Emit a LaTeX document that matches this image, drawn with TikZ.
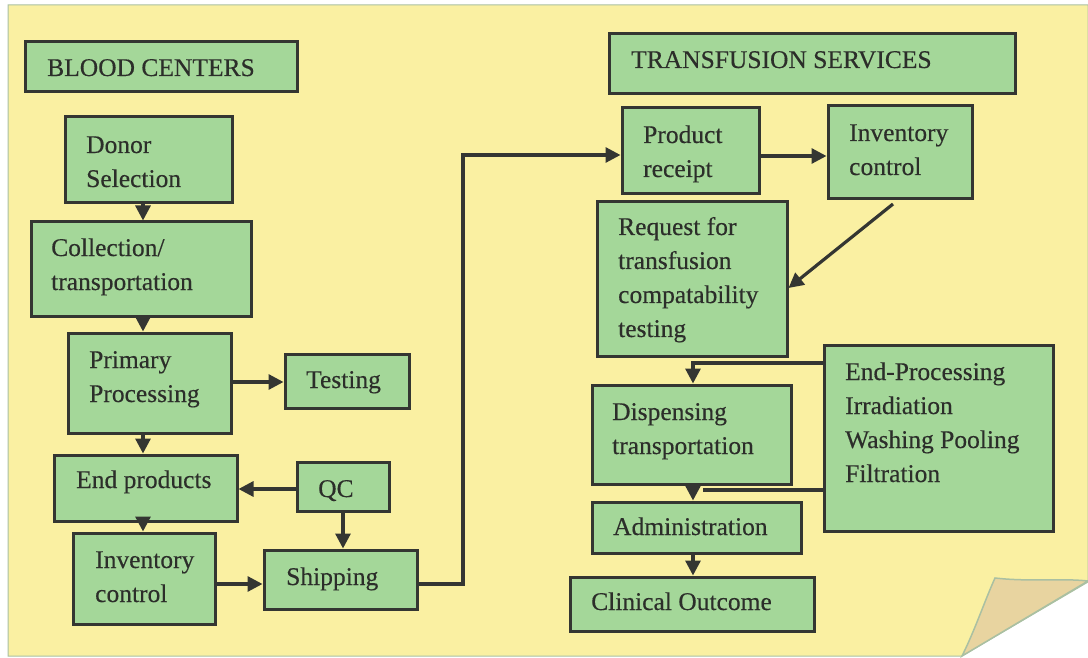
\documentclass[tikz,border=0pt]{standalone}
\usepackage{fontspec}
\setmainfont{Liberation Serif}[BoldFont={Liberation Serif}, BoldFeatures={FakeBold=0.35}]
\usetikzlibrary{arrows.meta}

\definecolor{paper}{RGB}{250,240,162}
\definecolor{boxgreen}{RGB}{164,215,153}
\definecolor{ink}{RGB}{52,54,50}
\definecolor{textink}{RGB}{44,46,42}
\definecolor{flap}{RGB}{232,212,160}
\definecolor{paperedge}{RGB}{170,192,162}

% multi-line text whose baseline is the first line
\newcommand\stack[1]{\begin{tabular}[t]{@{}l@{}}#1\end{tabular}}
% box from its corners (x1,y1,x2,y2) in pixel units
\newcommand\bx[5]{\node[box, minimum width={(#4-#2)*1pt}, minimum height={(#5-#3)*1pt}] (#1) at ({(#2+#4)/2},{(#3+#5)/2}) {};}

\tikzset{
  box/.style={draw=ink, fill=boxgreen, line width=3pt, inner sep=0pt},
  txt/.style={anchor=base west, inner sep=0pt, text=textink,
    font=\fontsize{25.5}{34}\selectfont\bfseries},
  conn/.style={draw=ink, line width=3.2pt},
  arr/.style={conn, -{Triangle[length=15pt,width=15pt]}},
}

\begin{document}
\begin{tikzpicture}[x=1pt,y=-1pt]
\useasboundingbox (0,0) rectangle (1088,658);
\fill[white] (0,0) rectangle (1088,658);

% sheet of paper with a curled bottom-right corner
\fill[paper, draw=paperedge, line width=1pt]
  (8,5) -- (1088,5) -- (1088,582) -- (962,656) -- (8,656) -- cycle;
\fill[flap, draw=paperedge, line width=1.5pt]
  (995,578) .. controls (1030,582) and (1060,578) .. (1088,581)
  -- (962,656) .. controls (975,630) and (985,600) .. cycle;

% blood center boxes
\bx{bc}{25}{42}{297}{92}
\bx{donor}{65}{117}{232}{203}
\bx{coll}{31}{222}{251}{316}
\bx{prim}{68}{333}{231}{433}
\bx{test}{285}{354}{409}{408}
\bx{endp}{54}{455}{237}{521}
\bx{qc}{297}{462}{389}{511}
\bx{inv}{73}{533}{215}{624}
\bx{ship}{264}{550}{417}{609}

% transfusion service boxes
\bx{ts}{609}{34}{1015}{94}
\bx{prod}{622}{108}{759}{194}
\bx{rinv}{828}{106}{972}{199}
\bx{req}{597}{202}{787}{356}
\bx{endproc}{824}{345}{1053}{531}
\bx{disp}{592}{385}{791}{484}
\bx{admin}{592}{502}{801}{553}
\bx{clin}{570}{577}{814}{631}

% labels
\node[txt] (bc-t) at (47,76) {BLOOD CENTERS};
\node[txt] (donor-t) at (86,153) {\stack{Donor\\Selection}};
\node[txt] (coll-t) at (51,256) {\stack{Collection/\\transportation}};
\node[txt] (prim-t) at (89,368) {\stack{Primary\\Processing}};
\node[txt] (test-t) at (306,388) {Testing};
\node[txt] (endp-t) at (76,488) {End products};
\node[txt] (qc-t) at (318,497) {QC};
\node[txt] (inv-t) at (95,568) {\stack{Inventory\\control}};
\node[txt] (ship-t) at (286,585) {Shipping};

\node[txt] (ts-t) at (631,68) {TRANSFUSION SERVICES};
\node[txt] (prod-t) at (643,143) {\stack{Product\\receipt}};
\node[txt] (rinv-t) at (849,141) {\stack{Inventory\\control}};
\node[txt] (req-t) at (618,235) {\stack{Request for\\transfusion\\compatability\\testing}};
\node[txt] (endproc-t) at (845,380) {\stack{End-Processing\\Irradiation\\Washing Pooling\\Filtration}};
\node[txt] (disp-t) at (612,420) {\stack{Dispensing\\transportation}};
\node[txt] (admin-t) at (613,535) {Administration};
\node[txt] (clin-t) at (591,610) {Clinical Outcome};

% guide coordinates for connector routes
\coordinate (lcol) at (143,0);
\coordinate (qcx) at (343,0);
\coordinate (rcol) at (693,0);
\coordinate (ytest) at (0,382);
\coordinate (yqc) at (0,489);
\coordinate (yship) at (0,584);
\coordinate (bend) at (463,155);
\coordinate (yprod) at (0,156);
\coordinate (yep1) at (0,363);
\coordinate (yep2) at (0,490);
\coordinate (diag1) at (893,204);
\coordinate (diag2) at (0,288);

% blood center flow
\draw[arr] (donor.south -| lcol) -- (coll.north -| lcol);
\draw[arr] (coll.south -| lcol) -- (prim.north -| lcol);
\draw[arr] (prim.south -| lcol) -- (endp.north -| lcol);
\draw[arr] (endp.south -| lcol) -- (inv.north -| lcol);
\draw[arr] (prim.east |- ytest) -- (test.west |- ytest);
\draw[arr] (qc.west |- yqc) -- (endp.east |- yqc);
\draw[arr] (qc.south -| qcx) -- (ship.north -| qcx);
\draw[arr] (inv.east |- yship) -- (ship.west |- yship);

% shipping to product receipt
\draw[arr] (ship.east |- yship) -- (bend |- yship) -- (bend) -- (prod.west |- bend);

% transfusion service flow
\draw[arr] (prod.east |- yprod) -- (rinv.west |- yprod);
\draw[arr] (diag1) -- (req.east |- diag2);
\draw[arr] (endproc.west |- yep1) -- (rcol |- yep1) -- (disp.north -| rcol);
\draw[arr] (disp.south -| rcol) -- (admin.north -| rcol);
\draw[conn] (endproc.west |- yep2) -- ([xshift=10pt]rcol |- yep2);
\draw[arr] (admin.south -| rcol) -- (clin.north -| rcol);
\end{tikzpicture}
\end{document}
